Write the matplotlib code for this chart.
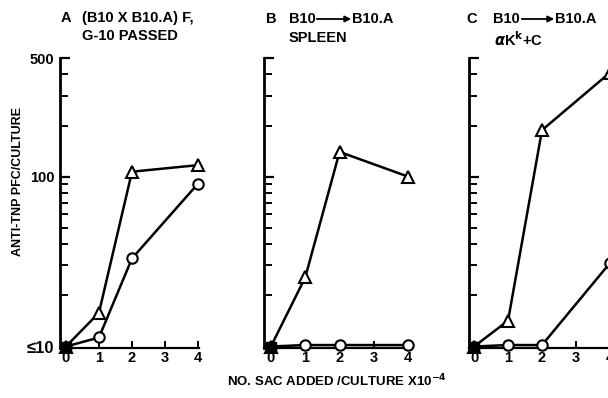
import matplotlib
matplotlib.use('Agg')
import matplotlib.pyplot as plt
from matplotlib.ticker import FixedLocator, NullFormatter

plt.rcParams['font.family'] = ['Liberation Sans', 'DejaVu Sans']
plt.rcParams['font.weight'] = 'bold'

# data (x = SAC added x1e-4, y = anti-TNP PFC/culture)
x_a_tri = [0, 1, 2, 4]
y_a_tri = [10, 15.8, 107, 117]
x_a_circ = [0, 1, 2, 4]
y_a_circ = [10, 11.3, 33, 91]

x_b_tri = [0, 1, 2, 4]
y_b_tri = [10, 25.5, 140, 100]
x_b_circ = [0, 1, 2, 4]
y_b_circ = [10, 10.2, 10.2, 10.2]

x_c_tri = [0, 1, 2, 4]
y_c_tri = [10, 14.2, 188, 410]
x_c_circ = [0, 1, 2, 4]
y_c_circ = [10, 10.2, 10.2, 31]

xticks = [0, 1, 2, 3, 4]
minor_y = [20, 30, 40, 50, 60, 70, 80, 90, 200, 300, 400]

W, H = 608, 398
fig = plt.figure(figsize=(W / 100, H / 100), dpi=100)


def px_axes(left, right, top, bottom):
    return fig.add_axes([left / W, 1 - bottom / H, (right - left) / W, (bottom - top) / H])


def setup(ax, xmin, xmax, show_labels):
    ax.set_yscale('log')
    ax.set_ylim(9.8, 500)
    ax.set_xlim(xmin, xmax)
    for s in ['top', 'right']:
        ax.spines[s].set_visible(False)
    ax.spines['left'].set_linewidth(2)
    ax.spines['bottom'].set_linewidth(1.6)
    ax.yaxis.set_major_locator(FixedLocator([10, 100, 500]))
    ax.yaxis.set_minor_locator(FixedLocator(minor_y))
    ax.yaxis.set_minor_formatter(NullFormatter())
    ax.tick_params(axis='y', which='major', direction='in', length=7, width=1.6, labelsize=10.5, pad=4)
    ax.tick_params(axis='y', which='minor', direction='in', length=6, width=1.4)
    ax.set_xticks(xticks)
    ax.set_xticklabels([str(t) for t in xticks], fontsize=10.5, fontweight='bold')
    ax.tick_params(axis='x', direction='in', length=5, width=1.4, pad=2)
    if show_labels:
        labels = ax.set_yticklabels(['\u226410', '100', '500'], fontsize=10.5, fontweight='bold')
        labels[0].set_fontsize(12)
    else:
        ax.set_yticklabels([])


def draw(ax, xt, yt, xc, yc):
    ax.plot(xc, yc, color='black', lw=1.8, marker='o', ms=7.5, mfc='white', mec='black', mew=1.5,
            clip_on=False, zorder=3)
    ax.plot(xt, yt, color='black', lw=1.8, marker='^', ms=8.5, mfc='white', mec='black', mew=1.5,
            clip_on=False, zorder=3)
    ax.plot([0], [10], marker='s', ms=6.5, color='black', clip_on=False, zorder=4)


axA = px_axes(60, 199, 58, 348)
setup(axA, -0.18, 4.03, True)
draw(axA, x_a_tri, y_a_tri, x_a_circ, y_a_circ)

axB = px_axes(264, 410, 58, 348)
setup(axB, -0.2, 4.05, False)
draw(axB, x_b_tri, y_b_tri, x_b_circ, y_b_circ)

axC = px_axes(469, 615, 58, 348)
setup(axC, -0.15, 4.15, False)
draw(axC, x_c_tri, y_c_tri, x_c_circ, y_c_circ)

fs = 10.5


def ftext(x, y, s, **kw):
    fig.text(x / W, 1 - y / H, s, fontsize=fs, fontweight='bold', va='center', ha='left', **kw)


def arrow(x0, x1, y):
    fig.patches.append(matplotlib.patches.FancyArrowPatch(
        (x0 / W, 1 - y / H), (x1 / W, 1 - y / H), transform=fig.transFigure,
        arrowstyle='-|>', mutation_scale=9, lw=1.3, color='black'))


ftext(61, 18, 'A')
ftext(82, 18, '(B10 X B10.A) F,')
ftext(82, 36, 'G-10 PASSED')

ftext(266, 19, 'B')
ftext(289, 19, 'B10')
arrow(314, 354, 19)
ftext(352, 19, 'B10.A')
ftext(289, 38, 'SPLEEN')

ftext(466, 19, 'C')
ftext(493, 19, 'B10')
arrow(519, 557, 19)
ftext(555, 19, 'B10.A')
ftext(494, 40, r'$\alpha$K$^{\mathbf{k}}$+C')

fig.text(18 / W, 1 - 182 / H, 'ANTI-TNP PFC/CULTURE', rotation=90, fontsize=9, fontweight='bold',
         ha='center', va='center')
fig.text(337 / W, 1 - 381 / H, 'NO. SAC ADDED /CULTURE X10$^{\\mathbf{-4}}$', fontsize=9.5,
         fontweight='bold', ha='center', va='center')

fig.savefig('out.png', dpi=100)
